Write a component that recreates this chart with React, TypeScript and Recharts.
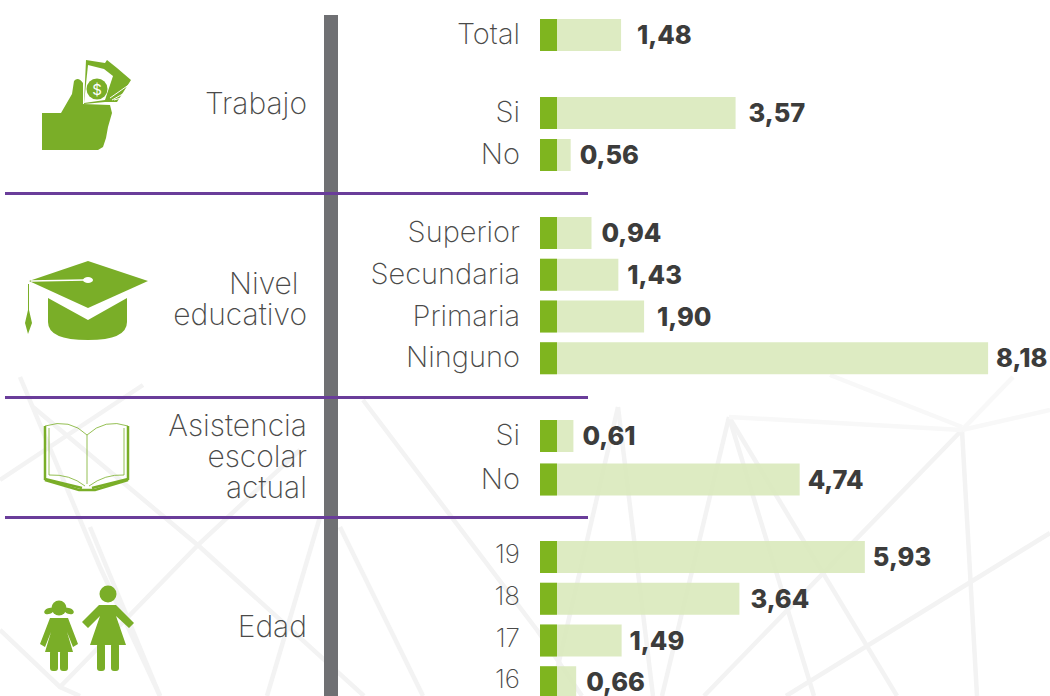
import { Bar, BarChart, LabelList, XAxis, YAxis } from "recharts";

// Indicator by group, one small bar chart per block of the infographic.
const totalLabels = ["Total"];
const totalValues = [1.48];
const trabajoLabels = ["Si", "No"];
const trabajoValues = [3.57, 0.56];
const nivelLabels = ["Superior", "Secundaria", "Primaria", "Ninguno"];
const nivelValues = [0.94, 1.43, 1.9, 8.18];
const asistenciaLabels = ["Si", "No"];
const asistenciaValues = [0.61, 4.74];
const edadLabels = ["19", "18", "17", "16"];
const edadValues = [5.93, 3.64, 1.49, 0.66];

// the dark green stub at the start of every bar has the same length
const STUB = 0.31;
const X_MAX = 9.31;

const GREEN = "#7fb51f";
const ICON = "#7aae28";
const FONT = "Inter, sans-serif";

const fmt = (v: unknown) => Number(v).toFixed(2).replace(".", ",");

function Group({
  labels,
  values,
  top,
  height,
  gaps = [],
  tickFont = 29,
  tickDy = -1,
}: {
  labels: string[];
  values: number[];
  top: number;
  height: number;
  gaps?: number[];
  tickFont?: number;
  tickDy?: number;
}) {
  const rows = labels.map((label, i) => ({ label, value: values[i], stub: STUB }));
  const valueLabel = (p: any) => (
    <text
      x={Number(p.x) + Number(p.width) + (gaps[p.index] ?? 8)}
      y={Number(p.y) + Number(p.height) / 2 + 9}
      fontSize={25.5}
      fontWeight={800}
      fill="#3c3c3b"
      fontFamily={FONT}
    >
      {fmt(p.value)}
    </text>
  );
  return (
    <div style={{ position: "absolute", left: 0, top }}>
      <BarChart
        width={1050}
        height={height}
        data={rows}
        layout="vertical"
        margin={{ top: 0, right: 0, bottom: 0, left: 0 }}
        barSize={32}
        barGap={-32}
      >
        <XAxis type="number" domain={[0, X_MAX]} hide />
        <YAxis
          type="category"
          dataKey="label"
          width={540}
          interval={0}
          axisLine={false}
          tickLine={false}
          tickMargin={14}
          tick={{ fontSize: tickFont, fontWeight: 200, fill: "#4a4a49", fontFamily: FONT, dy: tickDy }}
        />
        <Bar dataKey="value" fill="#d8e8b9" fillOpacity={0.88} isAnimationActive={false}>
          <LabelList dataKey="value" content={valueLabel} />
        </Bar>
        <Bar dataKey="stub" fill={GREEN} isAnimationActive={false} />
      </BarChart>
    </div>
  );
}

function Caption({ lines, top }: { lines: string[]; top: number }) {
  return (
    <div
      style={{
        position: "absolute",
        right: 1050 - 307,
        top,
        textAlign: "right",
        fontFamily: FONT,
        fontWeight: 200,
        fontSize: 30,
        lineHeight: "31px",
        color: "#4a4a49",
        whiteSpace: "pre",
      }}
    >
      {lines.join("\n")}
    </div>
  );
}

const backdrop = [
  "20,377 100,567 160,696",
  "0,480 143,385",
  "33,407 200,547 364,696",
  "300,450 200,543 60,687",
  "0,630 60,687 80,696",
  "90,527 160,696",
  "267,696 320,517",
  "363,400 537,630 582,696",
  "340,527 423,696",
  "729,417 662,696",
  "618,407 551,696",
  "618,407 653,696",
  "729,417 814,696",
  "729,417 897,696",
  "962,430 704,696",
  "962,430 977,696",
  "1050,533 786,696",
];

const faintBackdrop = ["962,430 1050,410", "729,417 962,430", "830,375 962,427", "962,430 1013,377"];

function Decor() {
  return (
    <svg width={1050} height={696} style={{ position: "absolute", left: 0, top: 0 }}>
      {backdrop.map((points) => (
        <polyline key={points} points={points} fill="none" stroke="#f3f3f3" strokeWidth={4.5} />
      ))}
      {faintBackdrop.map((points) => (
        <polyline key={points} points={points} fill="none" stroke="#f8f8f8" strokeWidth={4.5} />
      ))}
    </svg>
  );
}

function Icons() {
  return (
    <svg width={1050} height={696} style={{ position: "absolute", left: 0, top: 0 }}>
      {/* thumb with banknotes */}
      <g fill={ICON}>
        <path d="M86 60 L105 63 L107 60 L117 68 L131 80 L117 102 L105 102 L84 104 Z" />
        <path d="M42 113 L61 113 L72 94 L74 81 Q78 76 83 83 L83 104 L110 105 L112 113 L108 127 L106 138 L103 147 L98 150 L42 150 Z" />
      </g>
      <path d="M88 65 L104 69 L113 76 L105 100 L84 103 Z" fill="#fff" />
      <circle cx={97} cy={89} r={10.5} fill={ICON} />
      <text x={97} y={95} fontSize={15} fill="#fff" textAnchor="middle" fontFamily={FONT}>
        $
      </text>
      <path d="M110 98 L130 84 M112 100 L130 90 M114 100 L128 96" stroke="#fff" strokeWidth={1} />
      {/* graduation cap */}
      <g fill={ICON}>
        <path d="M29 281 L88 261 L148 281 L88 308 Z" />
        <path d="M48 298 L88 320 L127 298 L127 322 Q127 340 88 340 Q48 340 48 322 Z" />
        <path d="M28 284 L29 284 L29 310 L32 323 L28 334 L25 323 L28 310 Z" />
      </g>
      <path d="M31 281 L84 280" stroke="#fff" strokeWidth={1.5} />
      <ellipse cx={88} cy={280} rx={5} ry={3} fill="#fff" />
      {/* open book */}
      <g fill="none" stroke={ICON}>
        <path d="M45 426 Q70 418 87 435 Q105 418 128 426" strokeWidth={0.8} />
        <path d="M87 435 L87 484" strokeWidth={0.8} />
        <path d="M45 426 L45 479 L82 488 M128 426 L128 479 L92 488" strokeWidth={2.5} />
        <path d="M49 428 L49 475 Q70 474 85 486 M124 428 L124 475 Q105 474 89 486" strokeWidth={0.8} />
        <path d="M45 480 L79 490 L95 490 L128 480" strokeWidth={2.5} />
      </g>
      {/* girl and boy figures */}
      <g fill={ICON}>
        <circle cx={59} cy={608} r={7.5} />
        <ellipse cx={49} cy={611} rx={5} ry={3} transform="rotate(-20 49 611)" />
        <ellipse cx={69} cy={611} rx={5} ry={3} transform="rotate(20 69 611)" />
        <path d="M50 618 L68 618 L78 644 L73 647 L67 632 L73 652 L45 652 L51 632 L45 647 L40 644 Z" />
        <rect x={50} y={650} width={8} height={21} rx={3} />
        <rect x={60} y={650} width={8} height={21} rx={3} />
        <circle cx={108} cy={594} r={8.5} />
        <path d="M99 605 L116 605 L134 623 L129 628 L116 616 L126 645 L90 645 L100 616 L88 628 L82 622 Z" />
        <rect x={97} y={643} width={8} height={28} rx={3} />
        <rect x={111} y={643} width={8} height={28} rx={3} />
      </g>
    </svg>
  );
}

function Rules() {
  const rule = (top: number) => (
    <div
      key={top}
      style={{
        position: "absolute",
        left: 5,
        top,
        width: 583,
        height: 3,
        background: "#6a3d9a",
      }}
    />
  );
  return (
    <>
      <div
        style={{
          position: "absolute",
          left: 324,
          top: 15,
          width: 14,
          height: 681,
          background: "#6f7073",
        }}
      />
      {[192, 396, 516].map(rule)}
    </>
  );
}

export default function App() {
  return (
    <div
      style={{
        position: "absolute",
        left: 0,
        top: 0,
        width: 1050,
        height: 696,
        overflow: "hidden",
        background: "#fff",
      }}
    >
      <Decor />
      <Rules />
      <Icons />
      <Caption lines={["Trabajo"]} top={88} />
      <Caption lines={["Nivel\u00a0", "educativo"]} top={268} />
      <Caption lines={["Asistencia", "escolar", "actual"]} top={410} />
      <Caption lines={["Edad"]} top={611} />
      <Group labels={totalLabels} values={totalValues} top={15} height={40} gaps={[16]} />
      <Group labels={trabajoLabels} values={trabajoValues} top={92} height={84} gaps={[13, 9]} />
      <Group labels={nivelLabels} values={nivelValues} top={212} height={167} gaps={[10, 9, 13, 8]} />
      <Group labels={asistenciaLabels} values={asistenciaValues} top={414} height={87} gaps={[9, 8]} />
      <Group labels={edadLabels} values={edadValues} top={536} height={167} gaps={[8, 11, 8, 10]} tickFont={26} tickDy={-3} />
    </div>
  );
}
